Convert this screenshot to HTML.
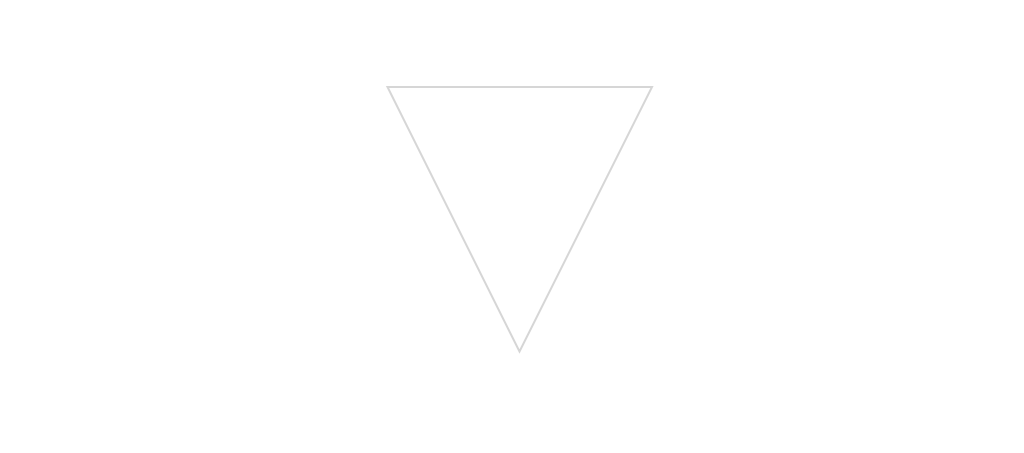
<!DOCTYPE html>
<html><head><style>html,body{margin:0;padding:0;background:#fff;width:1024px;height:453px;overflow:hidden}</style></head>
<body><svg width="1024" height="453" xmlns="http://www.w3.org/2000/svg">
<polygon points="387.5,87 652,87 519.5,351.5" fill="none" stroke="#d6d6d6" stroke-width="2"/>
</svg></body></html>
